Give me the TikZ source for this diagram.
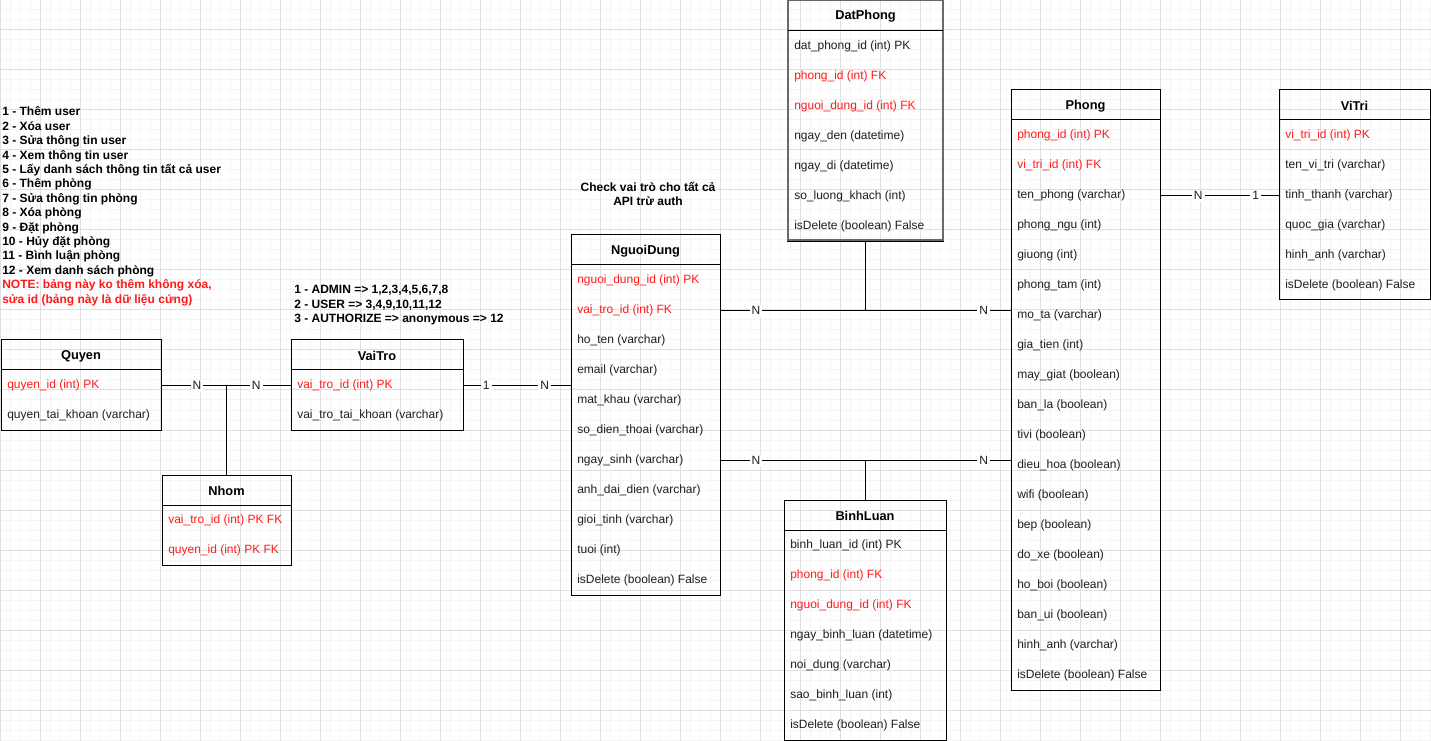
\documentclass[tikz,border=0pt]{standalone}
\usepackage{fontspec}
\setmainfont{Liberation Sans}
\usetikzlibrary{fit}

\definecolor{fkred}{RGB}{255,26,26}
\definecolor{rowtext}{RGB}{30,30,30}
\definecolor{gridmajor}{RGB}{224,224,224}
\definecolor{gridminor}{RGB}{245,245,245}
\definecolor{selframe}{RGB}{105,105,105}

% ER table: [frame style] name, left, top, width, title, rows (text/colour)
\newcommand{\ertab}[7][]{%
  \pgfmathsetmacro\tabR{#3+#5}%
  \node[tabtitle] (#2-h) at ({#3+#5/2},{#4+16.2}) {#6};%
  \ertabrows{#2}{#3}{#4}{#7}%
  \pgfmathsetmacro\tabB{#4+30+30*\tabN}%
  \node[tabframe,#1,fit={(#3,#4) (\tabR,\tabB)}] (#2) {};%
  \draw[tabline] (#3,{#4+30}) -- (\tabR,{#4+30});%
}
\newcommand{\ertabrows}[4]{%
  \foreach \txt/\col [count=\i] in {#4}{%
    \node[tabrow,text=\col] (#1-\i) at ({#2+6},{#3+15.8+30*\i}) {\txt};%
    \xdef\tabN{\i}}%
}

\begin{document}
\begin{tikzpicture}[x=0.75pt,y=-0.75pt,
  minorgrid/.style={draw=gridminor,line width=0.75pt},
  majorgrid/.style={draw=gridmajor,line width=0.75pt},
  tabtitle/.style={inner sep=0pt,font=\bfseries\fontsize{9.6}{11.5}\selectfont},
  tabrow/.style={anchor=west,inner sep=0pt,font=\fontsize{9}{10.8}\selectfont},
  tabframe/.style={draw=black,line width=0.75pt,inner sep=0pt},
  tabline/.style={draw=black,line width=0.75pt},
  rel/.style={draw=black,line width=0.75pt},
  card/.style={fill=white,inner sep=1.5pt,text=rowtext,font=\fontsize{9}{10.8}\selectfont},
  note/.style={anchor=base west,inner sep=0pt,font=\bfseries\fontsize{9}{10.8}\selectfont},
]
% canvas and grid
\fill[white] (0,0) rectangle (1431,741);
\useasboundingbox (0,0) rectangle (1431,741);
\foreach \x in {0,10,...,1430} \draw[minorgrid] (\x,0) -- (\x,741);
\foreach \y in {0,10,...,740} \draw[minorgrid] (0,\y) -- (1431,\y);
\foreach \x in {0,40,...,1400} \draw[majorgrid] (\x,0) -- (\x,741);
\foreach \y in {30,70,...,710} \draw[majorgrid] (0,\y) -- (1431,\y);

% tables
\ertab{quyen}{1}{340}{160}{Quyen}%
  {quyen\_id (int) PK/fkred, quyen\_tai\_khoan (varchar)/rowtext}
\ertab{vaitro}{291}{340}{172}{VaiTro}%
  {vai\_tro\_id (int) PK/fkred, vai\_tro\_tai\_khoan (varchar)/rowtext}
\ertab{nhom}{162}{475}{129}{Nhom}%
  {vai\_tro\_id (int) PK FK/fkred, quyen\_id (int) PK FK/fkred}
\ertab{nguoidung}{571}{235}{149}{NguoiDung}%
  {nguoi\_dung\_id (int) PK/fkred, vai\_tro\_id (int) FK/fkred,
   ho\_ten (varchar)/rowtext, email (varchar)/rowtext, mat\_khau (varchar)/rowtext,
   so\_dien\_thoai (varchar)/rowtext, ngay\_sinh (varchar)/rowtext,
   anh\_dai\_dien (varchar)/rowtext, gioi\_tinh (varchar)/rowtext,
   tuoi (int)/rowtext, isDelete (boolean) False/rowtext}
\ertab[draw=selframe,line width=1.5pt]{datphong}{788}{0.5}{155}{DatPhong}%
  {dat\_phong\_id (int) PK/rowtext, phong\_id (int) FK/fkred,
   nguoi\_dung\_id (int) FK/fkred, ngay\_den (datetime)/rowtext,
   ngay\_di (datetime)/rowtext, so\_luong\_khach (int)/rowtext,
   isDelete (boolean) False/rowtext}
\draw[tabline] (datphong.south west) -- (datphong.south east);
\ertab{phong}{1011}{90}{149}{Phong}%
  {phong\_id (int) PK/fkred, vi\_tri\_id (int) FK/fkred,
   ten\_phong (varchar)/rowtext, phong\_ngu (int)/rowtext, giuong (int)/rowtext,
   phong\_tam (int)/rowtext, mo\_ta (varchar)/rowtext, gia\_tien (int)/rowtext,
   may\_giat (boolean)/rowtext, ban\_la (boolean)/rowtext, tivi (boolean)/rowtext,
   dieu\_hoa (boolean)/rowtext, wifi (boolean)/rowtext, bep (boolean)/rowtext,
   do\_xe (boolean)/rowtext, ho\_boi (boolean)/rowtext, ban\_ui (boolean)/rowtext,
   hinh\_anh (varchar)/rowtext, isDelete (boolean) False/rowtext}
\ertab{vitri}{1279}{90}{151}{ViTri}%
  {vi\_tri\_id (int) PK/fkred, ten\_vi\_tri (varchar)/rowtext,
   tinh\_thanh (varchar)/rowtext, quoc\_gia (varchar)/rowtext,
   hinh\_anh (varchar)/rowtext, isDelete (boolean) False/rowtext}
\ertab{binhluan}{784}{500}{162}{BinhLuan}%
  {binh\_luan\_id (int) PK/rowtext, phong\_id (int) FK/fkred,
   nguoi\_dung\_id (int) FK/fkred, ngay\_binh\_luan (datetime)/rowtext,
   noi\_dung (varchar)/rowtext, sao\_binh\_luan (int)/rowtext,
   isDelete (boolean) False/rowtext}

% relationships
\coordinate (jnhom) at (nhom.north |- quyen-1);
\draw[rel] (quyen-1 -| quyen.east) -- node[card,pos=0.545]{N} (jnhom)
  -- node[card,pos=0.465]{N} (vaitro-1 -| vaitro.west);
\draw[rel] (jnhom) -- (nhom.north);

\draw[rel] (vaitro-1 -| vaitro.east) -- node[card,pos=0.213]{1}
  node[card,pos=0.76]{N} (vaitro-1 -| nguoidung.west);

\coordinate (jdat) at (datphong.south |- nguoidung-2);
\draw[rel] (nguoidung-2 -| nguoidung.east) -- node[card,pos=0.245]{N} (jdat)
  -- node[card,pos=0.816]{N} (nguoidung-2 -| phong.west);
\draw[rel] (jdat) -- (datphong.south);

\coordinate (jbinh) at (binhluan.north |- nguoidung-7);
\draw[rel] (nguoidung-7 -| nguoidung.east) -- node[card,pos=0.245]{N} (jbinh)
  -- node[card,pos=0.816]{N} (nguoidung-7 -| phong.west);
\draw[rel] (jbinh) -- (binhluan.north);

\draw[rel] (phong-3 -| phong.east) -- node[card,pos=0.32]{N}
  node[card,pos=0.807]{1} (phong-3 -| vitri.west);

% permission list
\foreach \ln/\col [count=\i] in {%
  1 - Thêm user/black, 2 - Xóa user/black, 3 - Sửa thông tin user/black,
  4 - Xem thông tin user/black, 5 - Lấy danh sách thông tin tất cả user/black,
  6 - Thêm phòng/black, 7 - Sửa thông tin phòng/black, 8 - Xóa phòng/black,
  9 - Đặt phòng/black, 10 - Hủy đặt phòng/black, 11 - Bình luận phòng/black,
  12 - Xem danh sách phòng/black, {NOTE: bảng này ko thêm không xóa,}/fkred,
  sửa id (bảng này là dữ liệu cứng)/fkred}
  \node[note,text=\col] (perm-\i) at (2,{101.6+14.4*\i}) {\ln};

% role list
\foreach \ln [count=\i] in {{1 - ADMIN => 1,2,3,4,5,6,7,8},
  {2 - USER => 3,4,9,10,11,12}, {3 - AUTHORIZE => anonymous => 12}}
  \node[note] (role-\i) at (294,{279.6+14.4*\i}) {\ln};

% remark above NguoiDung
\node[note,anchor=base] (chk-1) at (648,191.5) {Check vai trò cho tất cả};
\node[note,anchor=base] (chk-2) at (648,205.9) {API trừ auth};
\end{tikzpicture}
\end{document}
